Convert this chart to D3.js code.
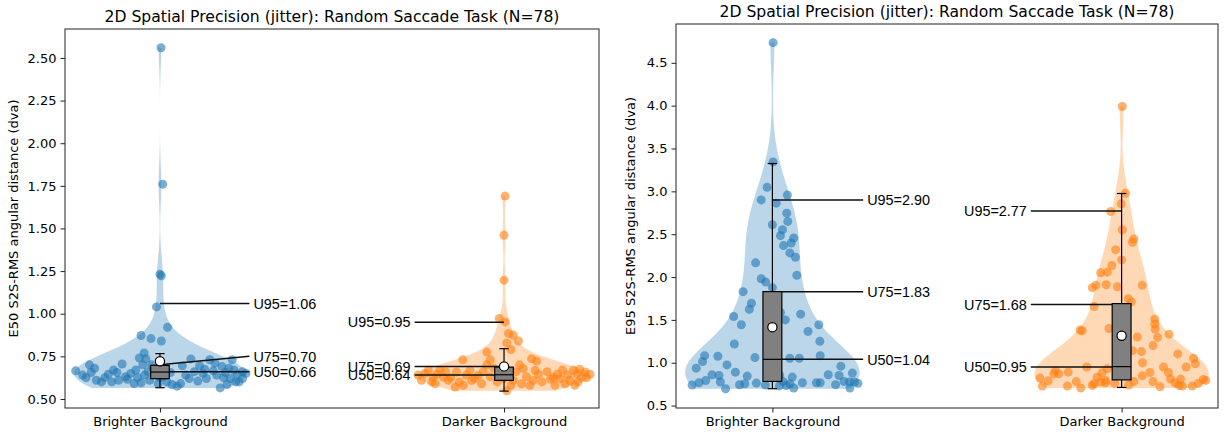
<!DOCTYPE html>
<html><head><meta charset="utf-8">
<script src="https://cdn.jsdelivr.net/npm/d3@7"></script>
<style>body{margin:0;background:#fff}svg{display:block}</style>
</head><body><svg id="c" width="1225" height="438"></svg>
<script>
// ---------------- DATA ----------------
const categories = ["Brighter Background", "Darker Background"];
const titleText = "2D Spatial Precision (jitter): Random Saccade Task (N=78)";
const e50Label = "E50 S2S-RMS angular distance (dva)";
const e95Label = "E95 S2S-RMS angular distance (dva)";
const e50Ticks = [0.5, 0.75, 1.0, 1.25, 1.5, 1.75, 2.0, 2.25, 2.5];
const e95Ticks = [0.5, 1.0, 1.5, 2.0, 2.5, 3.0, 3.5, 4.0, 4.5];

// points: [value, jitter (category units)]
const e50Bright = [
 [2.56,0.003],[1.76,0.008],[1.232,0.0],[1.222,0.004],[1.04,-0.01],[0.92,0.022],[0.872,-0.055],[0.854,-0.026],[0.84,0.004],[0.77,-0.046],[0.736,-0.041],
 [0.665,-0.245],[0.64,-0.225],[0.625,-0.215],[0.70,-0.205],[0.68,-0.19],[0.61,-0.185],[0.60,-0.17],[0.625,-0.16],[0.645,-0.15],[0.60,-0.14],[0.655,-0.125],[0.61,-0.12],[0.705,-0.11],
 [0.615,-0.095],[0.65,-0.085],[0.59,-0.075],[0.67,-0.07],[0.74,-0.06],[0.595,-0.055],[0.70,-0.05],[0.64,-0.045],[0.66,-0.035],[0.61,-0.03],[0.68,-0.02],[0.65,-0.015],[0.59,-0.005],
 [0.63,0.01],[0.60,0.02],[0.585,0.035],[0.575,0.05],[0.59,0.06],[0.64,0.075],[0.62,0.085],[0.735,0.09],[0.66,0.10],[0.605,0.11],
 [0.695,0.115],[0.65,0.125],[0.62,0.135],[0.73,0.145],[0.665,0.155],[0.64,0.165],[0.565,0.175],[0.69,0.18],[0.655,0.19],[0.585,0.195],[0.62,0.205],[0.73,0.21],[0.67,0.215],[0.645,0.225],[0.60,0.23],[0.66,0.24],[0.62,0.24],[0.65,0.25],
 [0.655,-0.2],[0.67,-0.135],[0.63,-0.1],[0.625,-0.065],[0.70,-0.025],[0.625,0.0],[0.655,0.03],[0.695,0.065],[0.675,0.13],[0.71,0.16],[0.625,0.185],[0.68,0.2],[0.60,0.22]
];
const e50Dark = [
 [1.69,0.003],[1.46,0.0],[1.197,0.0],[0.972,-0.014],[0.952,0.003],[0.884,0.013],[0.873,0.027],[0.84,0.042],[0.828,0.008],[0.775,-0.05],[0.79,0.02],[0.73,-0.12],[0.73,-0.04],[0.736,0.08],[0.722,0.095],
 [0.668,-0.22],[0.628,-0.206],[0.589,-0.20],[0.668,-0.186],[0.628,-0.176],[0.609,-0.162],[0.57,-0.142],[0.658,-0.138],[0.58,-0.118],[0.668,-0.099],[0.609,-0.094],[0.638,-0.075],[0.589,-0.065],
 [0.678,0.056],[0.668,0.09],[0.609,0.085],[0.589,0.051],[0.609,0.027],[0.648,0.017],[0.548,0.008],[0.628,0.143],[0.58,0.148],[0.619,0.163],[0.589,0.177],[0.609,0.192],[0.668,0.202],[0.648,0.211],[0.628,0.226],[0.658,0.236],[0.58,0.206],
 [0.64,-0.25],[0.61,-0.24],[0.65,-0.23],[0.60,-0.21],[0.645,-0.195],[0.66,-0.17],[0.625,-0.155],[0.60,-0.13],[0.64,-0.11],[0.62,-0.085],[0.66,-0.06],[0.70,-0.05],[0.63,-0.04],[0.68,-0.03],[0.60,-0.02],[0.66,-0.01],[0.62,0.0],[0.58,0.02],[0.66,0.035],[0.70,0.045],[0.63,0.065],[0.58,0.075],[0.645,0.1],[0.60,0.11],[0.66,0.125],[0.615,0.135],[0.645,0.155],[0.67,0.17],[0.64,0.185],[0.60,0.215],[0.675,0.22],[0.625,0.24],[0.645,0.25]
];
const e95Bright = [
 [4.735,0.002],[3.344,0.002],[3.047,-0.015],[2.90,-0.032],[2.958,0.043],[2.862,0.011],[2.746,0.041],[2.649,0.044],[2.61,0.0],[2.552,0.029],
 [2.483,0.023],[2.456,0.061],[2.398,0.054],[2.367,0.032],[2.282,0.05],[2.231,0.066],[2.166,-0.048],[1.98,-0.032],[1.941,-0.019],[1.876,0.0],
 [1.83,-0.084],[1.694,-0.06],[1.625,-0.066],[1.54,-0.111],[1.443,-0.089],[1.586,0.023],[1.50,0.037],[1.567,0.081],[1.366,0.102],[1.443,0.133],
 [1.25,0.136],[1.219,-0.109],[1.083,0.137],[1.053,0.05],[1.053,0.077],[1.076,-0.156],[1.083,-0.194],[1.014,-0.2],[0.937,-0.218],[0.975,-0.13],
 [0.859,-0.173],[0.851,-0.153],[0.793,-0.191],[0.767,-0.21],[0.775,-0.149],[0.697,-0.134],[0.89,-0.106],[0.743,-0.094],[0.755,-0.079],[0.844,-0.072],
 [0.763,-0.046],[0.851,0.021],[0.782,0.03],[0.735,0.04],[0.833,0.057],[0.705,0.061],[0.767,0.086],[0.755,0.05],[0.767,0.126],[0.767,0.137],
 [0.743,0.181],[0.96,0.196],[0.851,0.191],[0.782,0.205],[0.775,0.221],[0.879,0.229],[0.775,0.235],[0.705,0.222],
 [1.2,0.0],[0.95,0.01],[1.7,-0.01],[0.73,0.02],[0.74,-0.02],[0.76,0.245],[0.74,-0.23],[0.86,0.16],[1.06,-0.05],[2.02,0.07]
];
const e95Dark = [
 [3.99,0.002],[2.978,0.011],[2.854,-0.001],[2.765,-0.031],[2.552,0.002],[2.444,0.035],[2.405,0.031],[2.32,-0.017],[2.135,-0.028],[2.05,-0.06],
 [2.057,-0.041],[1.903,-0.074],[1.876,-0.084],[1.91,-0.044],[1.887,-0.012],[1.903,0.059],[1.748,0.019],[1.71,0.028],[1.655,-0.079],[1.509,0.095],
 [1.45,0.095],[1.393,0.096],[1.296,0.103],[1.334,0.136],[1.381,-0.119],[1.373,-0.113],[1.40,-0.036],[1.30,0.045],[1.141,0.031],[1.13,0.057],
 [1.103,0.161],[1.053,0.206],[0.987,0.211],[0.929,-0.041],[0.821,-0.234],[0.728,-0.227],[0.91,-0.189],[0.87,-0.18],[0.89,-0.153],[0.87,-0.194],
 [0.728,-0.155],[0.705,-0.117],[0.736,-0.084],[0.832,-0.07],[0.882,-0.056],[0.775,-0.06],[0.755,-0.079],[0.794,-0.046],[0.767,-0.046],[0.78,0.035],
 [0.847,0.059],[0.886,0.081],[0.78,0.09],[0.886,0.134],[0.809,0.14],[0.767,0.153],[0.809,0.169],[0.728,0.174],[0.736,0.164],[0.728,0.202],
 [0.805,0.234],[0.794,0.241],
 [0.95,0.0],[1.2,0.005],[1.6,0.01],[0.85,-0.005],[2.2,0.0],[0.74,0.02],[0.76,-0.02],[0.95,0.12],[0.78,-0.13],[0.95,0.185],[0.76,0.22],[0.79,-0.21],[1.2,0.09],[0.95,-0.1],[1.0,0.06],[0.72,0.11]
];

// box statistics per category [Brighter, Darker]
const e50Q1 = [0.619, 0.609], e50Median = [0.658, 0.642], e50Q3 = [0.697, 0.687];
const e50WhiskerLow = [0.566, 0.546], e50WhiskerHigh = [0.766, 0.795], e50Mean = [0.721, 0.691];
const e50U50 = [0.66, 0.64], e50U75 = [0.70, 0.69], e50U95 = [1.06, 0.95];
const e95Q1 = [0.782, 0.80], e95Median = [1.04, 0.955], e95Q3 = [1.83, 1.69];
const e95WhiskerLow = [0.697, 0.712], e95WhiskerHigh = [3.325, 2.975], e95Mean = [1.415, 1.315];
const e95U50 = [1.04, 0.95], e95U75 = [1.83, 1.68], e95U95 = [2.90, 2.77];

// ---------------- DRAW ----------------
const colors = ["#1f77b4", "#ff7f0e"];
const svg = d3.select("#c");
const DV = "DejaVu Sans, sans-serif";
const LIB = "Liberation Sans, Arial, sans-serif";

const panels = [
 {box:[65,599,29,408], yDom:[0.447,2.67], ticks:e50Ticks, fmt:d3.format(".2f"), ylabel:e50Label, ylabelX:13,
  groups:[e50Bright,e50Dark], q1:e50Q1, med:e50Median, q3:e50Q3, wlo:e50WhiskerLow, whi:e50WhiskerHigh, mean:e50Mean,
  u50:e50U50, u75:e50U75, u95:e50U95},
 {box:[676,1218,24,408], yDom:[0.472,4.953], ticks:e95Ticks, fmt:d3.format(".1f"), ylabel:e95Label, ylabelX:630,
  groups:[e95Bright,e95Dark], q1:e95Q1, med:e95Median, q3:e95Q3, wlo:e95WhiskerLow, whi:e95WhiskerHigh, mean:e95Mean,
  u50:e95U50, u75:e95U75, u95:e95U95}
];

function kde(vals, n) {
  const N = vals.length, sd = d3.deviation(vals), bw = sd * Math.pow(N, -0.2);
  const lo = d3.min(vals), hi = d3.max(vals);
  return d3.range(n).map(i => {
    const y = lo + (hi - lo) * i / (n - 1);
    const dens = d3.sum(vals, v => Math.exp(-0.5 * ((y - v) / bw) ** 2)) / (N * bw * Math.sqrt(2 * Math.PI));
    return [y, dens];
  });
}

panels.forEach(p => {
  const [x0, x1, y0, y1] = p.box;
  const xs = d3.scaleLinear().domain([-0.276, 1.276]).range([x0, x1]);
  const ys = d3.scaleLinear().domain(p.yDom).range([y1, y0]);
  const unit = xs(1) - xs(0);
  const g = svg.append("g");

  // violins
  p.groups.forEach((pts, i) => {
    const vals = pts.map(d => d[0]);
    const k = kde(vals, 100);
    const mx = d3.max(k, d => d[1]);
    const area = d3.area()
      .y(d => ys(d[0]))
      .x0(d => xs(i - 0.25 * d[1] / mx))
      .x1(d => xs(i + 0.25 * d[1] / mx))
      .curve(d3.curveLinear);
    g.append("path").datum(k).attr("d", area).attr("fill", colors[i]).attr("fill-opacity", 0.3);
  });
  // points
  p.groups.forEach((pts, i) => {
    g.append("g").selectAll("circle").data(pts).join("circle")
      .attr("cx", d => xs(i + d[1])).attr("cy", d => ys(d[0])).attr("r", 4.5)
      .attr("fill", colors[i]).attr("fill-opacity", 0.6);
  });
  // annotations
  p.groups.forEach((pts, i) => {
    const dir = i === 0 ? 1 : -1;
    const xa = xs(i), xb = xs(i + dir * 0.26);
    const items = [["U95", p.u95[i], p.u95[i]], ["U75", p.u75[i], p.u75[i]], ["U50", p.u50[i], p.u50[i]]];
    if (p.u75[i] - p.u50[i] < 0.045) items[1][2] = p.u75[i] + 0.05;
    items.forEach(([name, v, lv]) => {
      g.append("line").attr("x1", xa).attr("y1", ys(v)).attr("x2", xb).attr("y2", ys(lv))
        .attr("stroke", "#111").attr("stroke-width", 1.5);
      g.append("text").attr("x", xb + dir * 4).attr("y", ys(lv)).attr("dy", "0.36em")
        .attr("text-anchor", dir > 0 ? "start" : "end")
        .attr("font-family", LIB).attr("font-size", 14.4).attr("fill", "#000")
        .text(name + "=" + v.toFixed(2));
    });
  });
  // boxes
  const bw = 0.054;
  p.groups.forEach((pts, i) => {
    const c = xs(i), hw = bw * unit / 2;
    const st = {stroke:"#000", "stroke-width":1.2};
    const L = (a, b, c2, d) => { const l = g.append("line").attr("x1", a).attr("y1", b).attr("x2", c2).attr("y2", d); Object.entries(st).forEach(([k, v]) => l.attr(k, v)); };
    L(c, ys(p.q1[i]), c, ys(p.wlo[i]));
    L(c, ys(p.q3[i]), c, ys(p.whi[i]));
    L(c - hw / 2, ys(p.wlo[i]), c + hw / 2, ys(p.wlo[i]));
    L(c - hw / 2, ys(p.whi[i]), c + hw / 2, ys(p.whi[i]));
    g.append("rect").attr("x", c - hw).attr("width", 2 * hw)
      .attr("y", ys(p.q3[i])).attr("height", ys(p.q1[i]) - ys(p.q3[i]))
      .attr("fill", "#808080").attr("stroke", "#000").attr("stroke-width", 1.2);
    L(c - hw, ys(p.med[i]), c + hw, ys(p.med[i]));
    g.append("circle").attr("cx", c).attr("cy", ys(p.mean[i])).attr("r", 4.6)
      .attr("fill", "#fff").attr("stroke", "#000").attr("stroke-width", 1.2);
  });

  // frame
  g.append("rect").attr("x", x0).attr("y", y0).attr("width", x1 - x0).attr("height", y1 - y0)
    .attr("fill", "none").attr("stroke", "#222").attr("stroke-width", 1);

  // axes
  const ya = d3.axisLeft(ys).tickValues(p.ticks).tickFormat(p.fmt).tickSize(4.5).tickPadding(4);
  const ax = g.append("g").attr("transform", `translate(${x0},0)`).call(ya);
  const xa = d3.axisBottom(xs).tickValues([0, 1]).tickFormat(i => categories[i]).tickSize(4.5).tickPadding(4);
  const bx = g.append("g").attr("transform", `translate(0,${y1})`).call(xa);
  [ax, bx].forEach(a => {
    a.select(".domain").remove();
    a.selectAll("line").attr("stroke", "#222");
    a.selectAll("text").attr("font-family", DV).attr("font-size", 13).attr("fill", "#000");
  });

  // title
  g.append("text").attr("x", (x0 + x1) / 2).attr("y", y0 - 7.5).attr("text-anchor", "middle")
    .attr("font-family", DV).attr("font-size", 15.6).attr("fill", "#000").text(titleText);
  // y label
  g.append("text").attr("transform", `translate(${p.ylabelX},${(y0 + y1) / 2}) rotate(-90)`)
    .attr("text-anchor", "middle").attr("dy", "0.36em")
    .attr("font-family", DV).attr("font-size", 13).attr("fill", "#000").text(p.ylabel);
});
</script>
</body></html>
